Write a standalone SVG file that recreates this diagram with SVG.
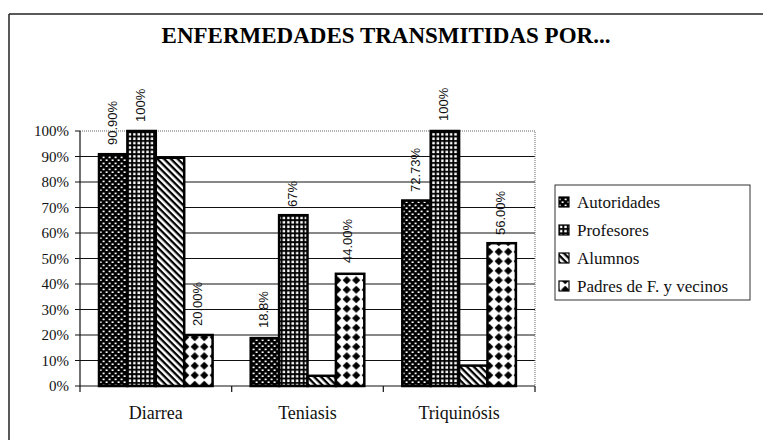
<svg xmlns="http://www.w3.org/2000/svg" width="763" height="440" viewBox="0 0 763 440">
<defs>
<pattern id="pAut" width="6" height="6" patternUnits="userSpaceOnUse">
<rect width="6" height="6" fill="#000"/>
<rect x="0.6" y="0.6" width="2" height="1.6" fill="#fff"/>
<rect x="3.6" y="3.4" width="2" height="1.6" fill="#fff"/>
</pattern>
<pattern id="pProf" width="4.4" height="4.4" patternUnits="userSpaceOnUse">
<rect width="4.4" height="4.4" fill="#000"/>
<rect x="1.1" y="1.1" width="2.5" height="2.5" fill="#fff"/>
</pattern>
<pattern id="pAlum" width="4.8" height="4.8" patternUnits="userSpaceOnUse" patternTransform="rotate(45)">
<rect width="4.8" height="4.8" fill="#fff"/>
<rect width="4.8" height="2.3" fill="#000"/>
</pattern>
<pattern id="pPad" width="9.5" height="9.5" patternUnits="userSpaceOnUse">
<rect width="9.5" height="9.5" fill="#fff"/>
<polygon points="4.75,0.6 8.9,4.75 4.75,8.9 0.6,4.75" fill="#000"/>
</pattern>
</defs>
<style>
.frame{stroke:#222;stroke-width:1.5;fill:none}
.grid{stroke:#111;stroke-width:1}
.border{stroke:#666;stroke-width:1;stroke-dasharray:1 1;fill:none}
.axis{stroke:#111;stroke-width:1.2;fill:none}
.bar{stroke:#000;stroke-width:2.5}
.ylab{font-size:15px;text-anchor:end;fill:#111}
.xlab{font-size:18px;text-anchor:middle;fill:#111}
.val{font-size:13px;fill:#111}
.leg{font-size:17px;fill:#111}
.lm{stroke:#000;stroke-width:1.2}
.title{font-size:23px;font-weight:bold;text-anchor:middle;fill:#000}
</style>
<rect width="763" height="440" fill="#fff"/>
<g id="frame">
<line class="frame" x1="9" y1="14" x2="763" y2="14"/>
<line class="frame" x1="9" y1="14" x2="9" y2="440"/>
</g>
<g id="title" font-family="Liberation Serif, serif"><text class="title" x="386" y="43">ENFERMEDADES TRANSMITIDAS POR...</text></g>
<g id="gridlines">
<line class="grid" x1="80" y1="360.5" x2="535" y2="360.5"/>
<line class="grid" x1="80" y1="335" x2="535" y2="335"/>
<line class="grid" x1="80" y1="309.5" x2="535" y2="309.5"/>
<line class="grid" x1="80" y1="284" x2="535" y2="284"/>
<line class="grid" x1="80" y1="258.5" x2="535" y2="258.5"/>
<line class="grid" x1="80" y1="233" x2="535" y2="233"/>
<line class="grid" x1="80" y1="207.5" x2="535" y2="207.5"/>
<line class="grid" x1="80" y1="182" x2="535" y2="182"/>
<line class="grid" x1="80" y1="156.5" x2="535" y2="156.5"/>
<polyline class="border" points="80,131 535,131 535,386"/>
</g>
<g id="y-axis" font-family="Liberation Serif, serif">
<line class="axis" x1="80" y1="131" x2="80" y2="392"/>
<path class="axis" d="M75 131H80M75 156.5H80M75 182H80M75 207.5H80M75 233H80M75 258.5H80M75 284H80M75 309.5H80M75 335H80M75 360.5H80M75 386H80"/>
<text class="ylab" x="69" y="136">100%</text>
<text class="ylab" x="69" y="161.5">90%</text>
<text class="ylab" x="69" y="187">80%</text>
<text class="ylab" x="69" y="212.5">70%</text>
<text class="ylab" x="69" y="238">60%</text>
<text class="ylab" x="69" y="263.5">50%</text>
<text class="ylab" x="69" y="289">40%</text>
<text class="ylab" x="69" y="314.5">30%</text>
<text class="ylab" x="69" y="340">20%</text>
<text class="ylab" x="69" y="365.5">10%</text>
<text class="ylab" x="69" y="391">0%</text>
</g>
<g id="x-axis" font-family="Liberation Serif, serif">
<line class="axis" x1="80" y1="386" x2="535" y2="386"/>
<path class="axis" d="M231.7 386V392M383.3 386V392M535 386V392"/>
<text class="xlab" x="155.8" y="419">Diarrea</text>
<text class="xlab" x="307.5" y="419">Teniasis</text>
<text class="xlab" x="459.2" y="419">Triquinósis</text>
</g>
<g id="diarrea" font-family="Liberation Sans, sans-serif">
<rect class="bar" x="99" y="154.2" width="28.4" height="231.8" fill="url(#pAut)"/>
<rect class="bar" x="127.4" y="131" width="28.4" height="255" fill="url(#pProf)"/>
<rect class="bar" x="155.8" y="157.8" width="28.4" height="228.2" fill="url(#pAlum)"/>
<rect class="bar" x="184.2" y="335" width="28.4" height="51" fill="url(#pPad)"/>
<text class="val" transform="translate(116.5,145) rotate(-90)">90.90%</text>
<text class="val" transform="translate(144.8,122) rotate(-90)">100%</text>
<text class="val" transform="translate(201.6,326) rotate(-90)">20.00%</text>
</g>
<g id="teniasis" font-family="Liberation Sans, sans-serif">
<rect class="bar" x="250.7" y="338.1" width="28.4" height="47.9" fill="url(#pAut)"/>
<rect class="bar" x="279.1" y="215.2" width="28.4" height="170.8" fill="url(#pProf)"/>
<rect class="bar" x="307.5" y="375.8" width="28.4" height="10.2" fill="url(#pAlum)"/>
<rect class="bar" x="335.9" y="273.8" width="28.4" height="112.2" fill="url(#pPad)"/>
<text class="val" transform="translate(268,328) rotate(-90)">18.8%</text>
<text class="val" transform="translate(296.5,207) rotate(-90)">67%</text>
<text class="val" transform="translate(352,263) rotate(-90)">44.00%</text>
</g>
<g id="triquinosis" font-family="Liberation Sans, sans-serif">
<rect class="bar" x="402.3" y="200.5" width="28.4" height="185.5" fill="url(#pAut)"/>
<rect class="bar" x="430.7" y="131" width="28.4" height="255" fill="url(#pProf)"/>
<rect class="bar" x="459.1" y="365.6" width="28.4" height="20.4" fill="url(#pAlum)"/>
<rect class="bar" x="487.5" y="243.2" width="28.4" height="142.8" fill="url(#pPad)"/>
<text class="val" transform="translate(419.5,192) rotate(-90)">72.73%</text>
<text class="val" transform="translate(448,121) rotate(-90)">100%</text>
<text class="val" transform="translate(504.5,235) rotate(-90)">56.00%</text>
</g>
<g id="legend" font-family="Liberation Serif, serif">
<rect x="555" y="185" width="195" height="115" fill="#fff" stroke="#333" stroke-width="1"/>
<g id="leg-autoridades"><rect class="lm" x="559" y="197" width="10" height="10" fill="url(#pAut)"/><text class="leg" x="577" y="208">Autoridades</text></g>
<g id="leg-profesores"><rect class="lm" x="559" y="225" width="10" height="10" fill="url(#pProf)"/><text class="leg" x="577" y="236">Profesores</text></g>
<g id="leg-alumnos"><rect class="lm" x="559" y="253" width="10" height="10" fill="url(#pAlum)"/><text class="leg" x="577" y="264">Alumnos</text></g>
<g id="leg-padres"><rect class="lm" x="559" y="281" width="10" height="10" fill="url(#pPad)"/><text class="leg" x="577" y="292">Padres de F. y vecinos</text></g>
</g>
</svg>
